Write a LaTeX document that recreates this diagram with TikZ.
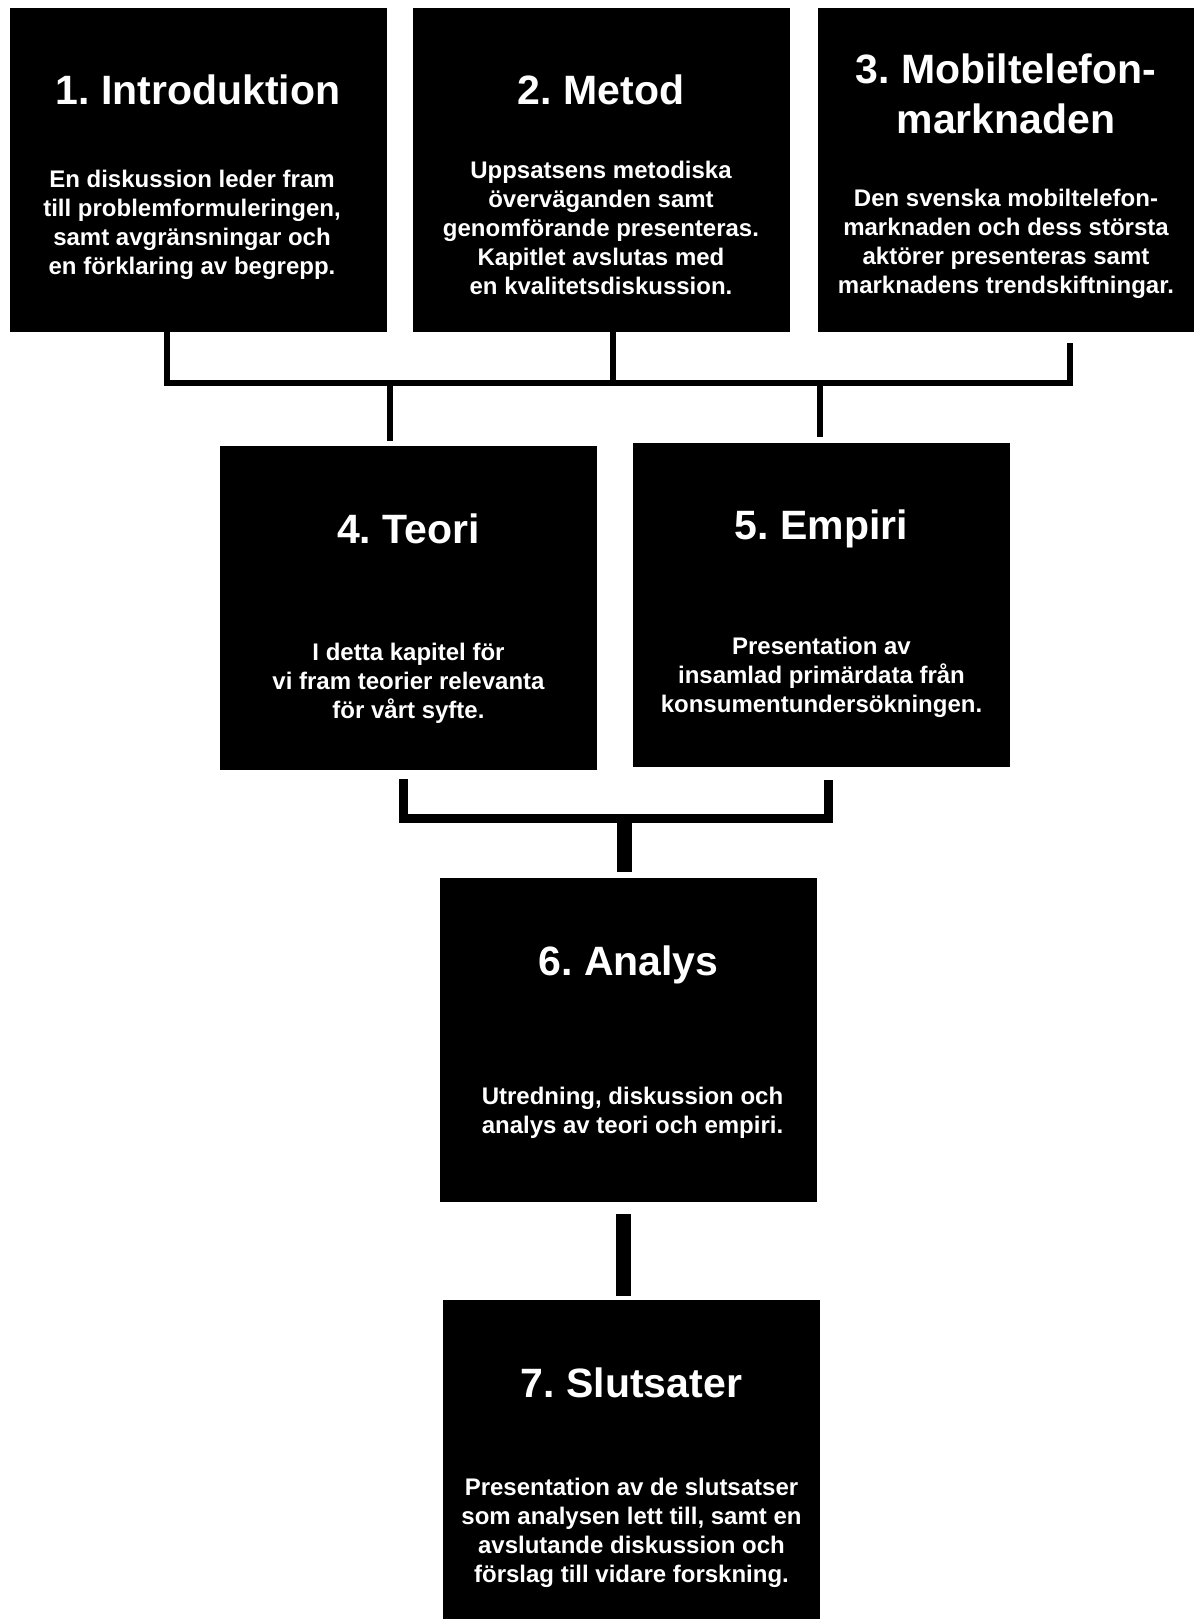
\documentclass[tikz,border=0pt]{standalone}
\usepackage{fontspec}
\setmainfont{Liberation Sans}
\usetikzlibrary{positioning}
\frenchspacing

\tikzset{
  chapter/.style   = {fill=black, inner sep=0pt, minimum width=188.5pt,
                      minimum height=162pt},
  chaptitle/.style = {text=white, align=center,
                      font=\fontsize{20.5}{25}\bfseries\selectfont},
  chaptext/.style  = {text=white, align=center,
                      font=\fontsize{12}{14.5}\bfseries\selectfont},
  link/.style      = {draw=black, line width=3pt},
  linkb/.style     = {draw=black, line width=4.5pt},
  linkc/.style     = {draw=black, line width=7.5pt}
}

\begin{document}
\begin{tikzpicture}[x=0.5pt, y=-0.5pt]
  \useasboundingbox (0,0) rectangle (1194,1619);

  %% -- chapter boxes -------------------------------------------
  \node[chapter] (intro)  at ( 198,170) {};
  \node[chapter] (metod)  at ( 601,170) {};
  \node[chapter, minimum width=188pt] (mobil) at (1006,170) {};
  \node[chapter] (teori)  at (408.5,608) {};
  \node[chapter] (empiri) at (821.5,604.5) {};
  \node[chapter] (analys) at (628.5,1040) {};
  \node[chapter, minimum height=159.5pt] (slut) at (631.5,1459.5) {};

  %% -- titles ----------------------------------------------------
  \node[chaptitle] (introT)  at ([yshift=-41pt]intro.north)    {1. Introduktion};
  \node[chaptitle] (metodT)  at ([yshift=-41pt]metod.north)    {2. Metod};
  \node[chaptitle] (mobilT)  at ([yshift=-43pt]mobil.north)    {3. Mobiltelefon-\\marknaden};
  \node[chaptitle] (teoriT)  at ([yshift=-41.5pt]teori.north)  {4. Teori};
  \node[chaptitle] (empiriT) at ([yshift=-43.5pt]empiri.north) {5. Empiri};
  \node[chaptitle] (analysT) at ([yshift=-43.5pt]analys.north) {6. Analys};
  \node[chaptitle] (slutT)   at ([yshift=-41.5pt]slut.north)   {7. Slutsater};

  %% -- descriptions ----------------------------------------------
  \node[chaptext] (introD) at ([xshift=-3pt, yshift=-108.5pt]intro.north)
    {En diskussion leder fram\\till problemformuleringen,\\samt avgränsningar och\\en förklaring av begrepp.};
  \node[chaptext] (metodD) at ([yshift=-110pt]metod.north)
    {Uppsatsens metodiska\\överväganden samt\\genomförande presenteras.\\Kapitlet avslutas med\\en kvalitetsdiskussion.};
  \node[chaptext] (mobilD) at ([yshift=-118pt]mobil.north)
    {Den svenska mobiltelefon-\\marknaden och dess största\\aktörer presenteras samt\\marknadens trendskiftningar.};
  \node[chaptext] (teoriD) at ([yshift=-119pt]teori.north)
    {I detta kapitel för\\vi fram teorier relevanta\\för vårt syfte.};
  \node[chaptext] (empiriD) at ([yshift=-117.5pt]empiri.north)
    {Presentation av\\insamlad primärdata från\\konsumentundersökningen.};
  \node[chaptext] (analysD) at ([xshift=2pt, yshift=-117.5pt]analys.north)
    {Utredning, diskussion och\\analys av teori och empiri.};
  \node[chaptext] (slutD) at ([yshift=-116.5pt]slut.north)
    {Presentation av de slutsatser\\som analysen lett till, samt en\\avslutande diskussion och\\förslag till vidare forskning.};

  %% -- upper connectors ------------------------------------------
  \coordinate (upL) at ( 167,383);
  \coordinate (upM) at ( 613,383);
  \coordinate (upR) at (1070,383);
  \coordinate (upT) at ( 390,383);
  \coordinate (upE) at ( 820,383);
  \draw[link] (intro.south -| upL) -- (upL) -- (upR) -- ++(0,-40);
  \draw[link] (metod.south -| upM) -- (upM);
  \draw[link, shorten >=2.5pt] (upT) -- (upT |- teori.north);
  \draw[link, shorten >=2.5pt] (upE) -- (upE |- empiri.north);

  %% -- lower connectors ------------------------------------------
  \coordinate (loL) at (403,818);
  \coordinate (loR) at (828,818);
  \coordinate (loM) at (624,818);
  \draw[linkb, shorten <=4.5pt, shorten >=6.5pt]
    (teori.south -| loL) -- (loL) -- (loR) -- (empiri.south -| loR);
  \draw[linkc, shorten >=3pt] (loM) -- (loM |- analys.north);

  %% -- analys -> slutsater ---------------------------------------
  \coordinate (anX) at (623.5,1250);
  \draw[linkc, shorten <=6pt, shorten >=2pt]
    (analys.south -| anX) -- (slut.north -| anX);

\end{tikzpicture}
\end{document}
